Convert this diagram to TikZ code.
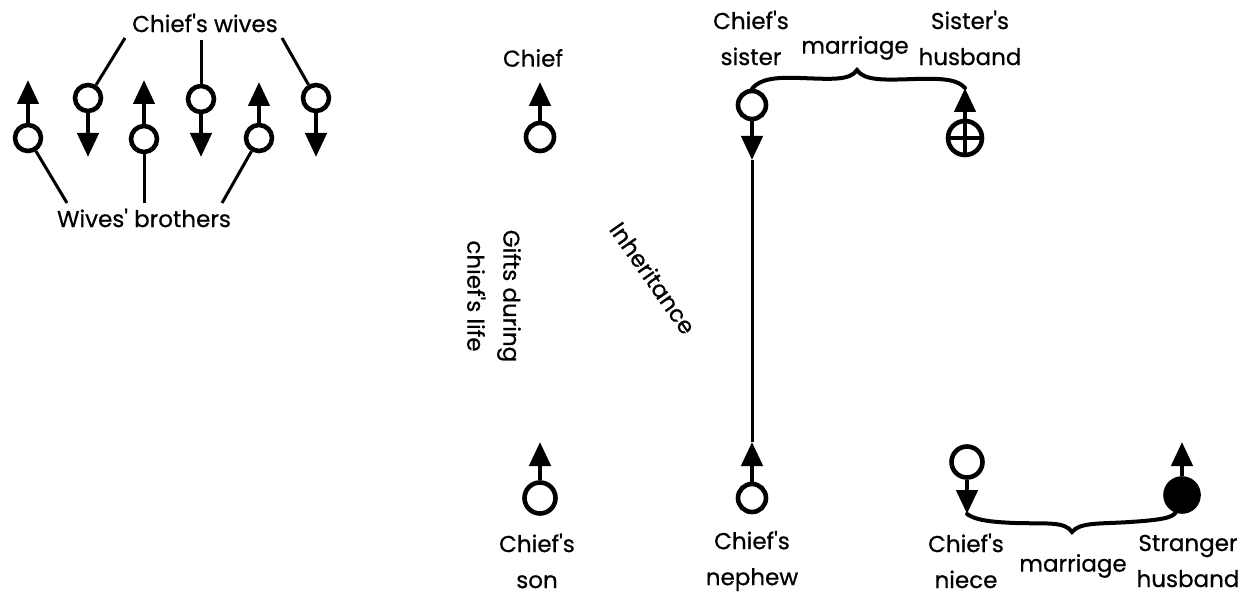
\documentclass[tikz,border=0pt]{standalone}
\usepackage{fontspec}
\setmainfont{Poppins}[Ligatures=TeXOff,FakeBold=0.6]
\usetikzlibrary{arrows.meta}
\begin{document}
\begin{tikzpicture}[x=1pt,y=-1pt,
  sym/.style={circle,draw,line width=4.6pt,minimum size=28pt,inner sep=0pt},
  shaft/.style={line width=4.6pt,-{Triangle[length=24pt 0 0,width=21pt 0 0]}},
  lead/.style={line width=3pt},
  lbl/.style={font=\fontsize{23pt}{36pt}\selectfont,align=center,inner sep=0pt},
  bracecurve/.style={line width=4pt,line cap=round}]
\useasboundingbox (0,0) rectangle (1253,596);
% ---------- top-left group
\node[sym,minimum size=26pt] (b1) at (28,138) {};
\node[sym,minimum size=26pt] (w1) at (88,98) {};
\node[sym,minimum size=26pt] (b2) at (144,139) {};
\node[sym,minimum size=26pt] (w2) at (201,99) {};
\node[sym,minimum size=26pt] (b3) at (259,138) {};
\node[sym,minimum size=26pt] (w3) at (316,98) {};
\coordinate (b1t) at (28,80);
\coordinate (b2t) at (144,80);
\coordinate (b3t) at (259,82);
\coordinate (w1t) at (88,157);
\coordinate (w2t) at (201,157);
\coordinate (w3t) at (316,157);
\draw[shaft] (b1.north) -- (b1t);
\draw[shaft] (b2.north) -- (b2t);
\draw[shaft] (b3.north) -- (b3t);
\draw[shaft] (w1.south) -- (w1t);
\draw[shaft] (w2.south) -- (w2t);
\draw[shaft] (w3.south) -- (w3t);
\node[lbl] (wives) at (205,23) {Chief's wives};
\node[lbl] (bros) at (144,218) {Wives' brothers};
\coordinate (wl1) at (125,38);
\coordinate (wl2) at (201,40);
\coordinate (wl3) at (282,38);
\coordinate (bl1) at (67,203);
\coordinate (bl2) at (144,203);
\coordinate (bl3) at (222,203);
\draw[lead] (w1) -- (wl1);
\draw[lead] (w2) -- (wl2);
\draw[lead] (w3) -- (wl3);
\draw[lead] (b1) -- (bl1);
\draw[lead] (b2) -- (bl2);
\draw[lead] (b3) -- (bl3);
% ---------- top row
\node[lbl] (chiefl) at (533,58) {Chief};
\node[sym] (chief) at (540,137) {};
\coordinate (chieft) at (540,82);
\draw[shaft] (chief.north) -- (chieft);
\node[lbl] (sisl) at (751,38) {Chief's\\sister};
\node[sym] (sis) at (752,105) {};
\coordinate (sist) at (752,160);
\draw[shaft] (sis.south) -- (sist);
\node[lbl] (marr1) at (855,48) {marriage};
\node[lbl] (husl) at (970,38) {Sister's\\husband};
\node[sym,minimum size=34pt] (hus) at (965,138) {};
\coordinate (hust) at (965,88);
\draw[shaft] (hus.north) -- (hust);
\draw[line width=4pt] (hus.center) ++(-16,0) -- ++(32,0);
\draw[line width=4pt] (hus.center) ++(0,-16) -- ++(0,32);
\draw[bracecurve] (sis.north) .. controls (760,79) and (775,77) .. (800,78)
  .. controls (830,79) and (850,81) .. (857,70)
  .. controls (864,81) and (885,80) .. (915,79)
  .. controls (945,78) and (958,80) .. (hust);
% ---------- rotated labels
\node[lbl,rotate=-90] (gifts) at (494,296) {Gifts during\\chief's life};
\node[lbl,rotate=-55] (inh) at (653,278) {Inheritance};
% ---------- bottom row
\node[sym,minimum size=31pt] (son) at (540,498) {};
\coordinate (sont) at (540,442);
\draw[shaft] (son.north) -- (sont);
\node[lbl] (sonl) at (537,561) {Chief's\\son};
\node[sym] (nep) at (752,498) {};
\coordinate (nept) at (752,442);
\draw[shaft] (nep.north) -- (nept);
\node[lbl] (nepl) at (752,561) {Chief's\\nephew};
\draw[lead] (sist) -- (nept);
\node[sym,minimum size=31pt] (niece) at (967,462) {};
\coordinate (niecet) at (967,514);
\draw[shaft] (niece.south) -- (niecet);
\node[lbl] (niecel) at (966,561) {Chief's\\niece};
\node[lbl] (marr2) at (1073,566) {marriage};
\node[sym,fill=black,minimum size=33pt] (str) at (1182,495) {};
\coordinate (strt) at (1182,442);
\draw[shaft] (str.north) -- (strt);
\node[lbl] (strl) at (1188,561) {Stranger\\husband};
\draw[bracecurve] (niecet) .. controls (975,520) and (990,522) .. (1015,523)
  .. controls (1045,524) and (1065,521) .. (1072,532)
  .. controls (1080,522) and (1100,524) .. (1130,522)
  .. controls (1160,520) and (1172,518) .. (str.250);
\end{tikzpicture}
\end{document}
